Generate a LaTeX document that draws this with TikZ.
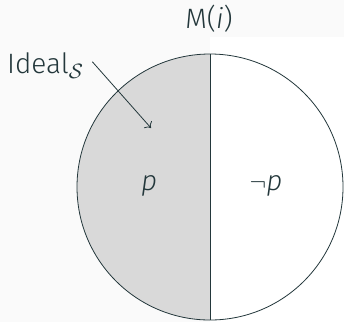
\documentclass[tikz,border=0pt]{standalone}
\usepackage{fontspec}
\setmainfont{Fira Sans}[UprightFont=* Light, ItalicFont=* Light Italic]
\usetikzlibrary{arrows.meta,positioning}
\definecolor{mDark}{HTML}{23373B}
\definecolor{mBack}{HTML}{FAFAFA}

\begin{document}
\begin{tikzpicture}[x=1pt, y=-1pt,
  lbl/.style={text=mDark, font=\fontsize{28}{33}\selectfont, inner sep=0pt},
  arrow/.style={-{To[length=5pt]}, mDark, line width=0.8pt}
]
  % page and right half
  \fill[mBack] (0,0) rectangle (344,322);
  \fill[white] (210,37) rectangle (344,322);
  \node[circle, minimum size=266, inner sep=0pt] (world) at (210,187) {};
  \begin{scope}
    \clip (world.center) circle (133);
    \fill[black!15] (0,0) rectangle (210,322);
  \end{scope}
  \draw[mDark, line width=0.8pt] (world.center) circle (133);
  \draw[mDark, line width=1pt] (world.north) -- (world.south);

  \node[lbl, anchor=base] (title) at (209,28) {M(\textit{i})};
  \node[lbl, anchor=base west] (ideal) at (7,73) {Ideal$_{\mathcal{S}}$};
  \coordinate (tip) at (151,128);
  \draw[arrow, shorten <=13pt] (ideal.north east) -- (tip);

  \node[lbl] (p) at (149,186) {\textit{p}};
  \node[lbl] (np) at (266,186) {$\neg$\textit{p}};
\end{tikzpicture}
\end{document}
